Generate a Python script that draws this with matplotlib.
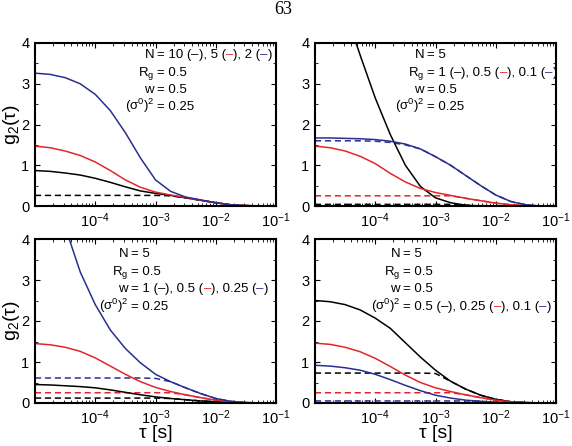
import numpy as np
import matplotlib
matplotlib.use('Agg')
import matplotlib.pyplot as plt
from matplotlib import font_manager
from matplotlib.ticker import MultipleLocator, LogLocator, NullFormatter

# шрифт: узкий, если есть
names = {f.name for f in font_manager.fontManager.ttflist}
narrow = next((n for n in ['Liberation Sans Narrow', 'Liberation Sans']
               if n in names), 'DejaVu Sans')
is_narrow = narrow == 'Liberation Sans Narrow'
plt.rcParams['font.family'] = [narrow, 'DejaVu Sans']
plt.rcParams['mathtext.fontset'] = 'custom'
plt.rcParams['mathtext.rm'] = narrow
plt.rcParams['mathtext.it'] = narrow + ':italic'
plt.rcParams['mathtext.bf'] = narrow + ':bold'

# данные, tau в секундах
tau = [1.0e-5, 1.78e-5, 3.16e-5, 5.62e-5, 1.0e-4, 1.78e-4, 3.16e-4, 5.62e-4,
       1.0e-3, 1.78e-3, 3.16e-3, 5.62e-3, 1.0e-2, 1.78e-2, 3.16e-2, 5.62e-2, 1.0e-1]

# панель 1: N = 10, 5, 2
a_black = [0.87, 0.85, 0.81, 0.76, 0.68, 0.58, 0.47, 0.37, 0.31, 0.26, 0.20, 0.14, 0.08, 0.03, 0.01, 0.0, 0.0]
a_red = [1.47, 1.43, 1.35, 1.24, 1.08, 0.87, 0.64, 0.46, 0.34, 0.27, 0.21, 0.14, 0.08, 0.03, 0.01, 0.0, 0.0]
a_blue = [3.26, 3.23, 3.15, 3.00, 2.74, 2.34, 1.80, 1.18, 0.64, 0.36, 0.22, 0.15, 0.08, 0.03, 0.01, 0.0, 0.0]
a_black_d = [0.26, 0.26, 0.26, 0.26, 0.26, 0.26, 0.26, 0.26, 0.26, 0.25, 0.20, 0.14, 0.08, 0.03, 0.01, 0.0, 0.0]

# панель 2: Rg = 1, 0.5, 0.1
b_black = [7.3, 6.0, 4.8, 3.70, 2.65, 1.75, 1.00, 0.48, 0.20, 0.08, 0.02, 0.0, 0.0, 0.0, 0.0, 0.0, 0.0]
b_red = [1.47, 1.43, 1.35, 1.22, 1.04, 0.80, 0.59, 0.43, 0.33, 0.26, 0.19, 0.13, 0.07, 0.03, 0.01, 0.0, 0.0]
b_blue = [1.67, 1.67, 1.66, 1.65, 1.63, 1.59, 1.52, 1.40, 1.21, 1.00, 0.75, 0.50, 0.27, 0.11, 0.03, 0.0, 0.0]
b_black_d = [0.04, 0.04, 0.04, 0.04, 0.04, 0.04, 0.04, 0.04, 0.04, 0.04, 0.02, 0.0, 0.0, 0.0, 0.0, 0.0, 0.0]
b_red_d = [0.25, 0.25, 0.25, 0.25, 0.25, 0.25, 0.25, 0.25, 0.25, 0.25, 0.19, 0.13, 0.07, 0.03, 0.01, 0.0, 0.0]
b_blue_d = [1.60, 1.60, 1.60, 1.60, 1.59, 1.56, 1.50, 1.40, 1.21, 1.00, 0.75, 0.50, 0.27, 0.11, 0.03, 0.0, 0.0]

# панель 3: w = 1, 0.5, 0.25
c_black = [0.45, 0.44, 0.42, 0.40, 0.37, 0.32, 0.26, 0.20, 0.15, 0.11, 0.08, 0.05, 0.03, 0.01, 0.0, 0.0, 0.0]
c_red = [1.45, 1.42, 1.36, 1.26, 1.10, 0.90, 0.70, 0.52, 0.38, 0.28, 0.20, 0.13, 0.07, 0.03, 0.01, 0.0, 0.0]
c_blue = [7.5, 5.7, 4.3, 3.2, 2.40, 1.78, 1.33, 0.98, 0.70, 0.52, 0.37, 0.23, 0.11, 0.04, 0.01, 0.0, 0.0]
c_black_d = [0.12, 0.12, 0.12, 0.12, 0.12, 0.12, 0.12, 0.12, 0.12, 0.11, 0.08, 0.05, 0.03, 0.01, 0.0, 0.0, 0.0]
c_red_d = [0.25, 0.25, 0.25, 0.25, 0.25, 0.25, 0.25, 0.25, 0.25, 0.25, 0.20, 0.13, 0.07, 0.03, 0.01, 0.0, 0.0]
c_blue_d = [0.61, 0.61, 0.61, 0.61, 0.61, 0.61, 0.61, 0.61, 0.60, 0.52, 0.37, 0.23, 0.11, 0.04, 0.01, 0.0, 0.0]

# панель 4: (sigma0)^2 = 0.5, 0.25, 0.1
d_black = [2.50, 2.47, 2.40, 2.27, 2.07, 1.82, 1.47, 1.12, 0.80, 0.53, 0.34, 0.19, 0.09, 0.03, 0.01, 0.0, 0.0]
d_red = [1.46, 1.43, 1.36, 1.25, 1.09, 0.89, 0.68, 0.50, 0.37, 0.28, 0.20, 0.13, 0.07, 0.03, 0.01, 0.0, 0.0]
d_blue = [0.92, 0.90, 0.86, 0.80, 0.70, 0.57, 0.43, 0.30, 0.19, 0.12, 0.07, 0.04, 0.02, 0.01, 0.0, 0.0, 0.0]
d_black_d = [0.73, 0.73, 0.73, 0.73, 0.73, 0.73, 0.73, 0.73, 0.72, 0.53, 0.34, 0.19, 0.09, 0.03, 0.01, 0.0, 0.0]
d_red_d = [0.25, 0.25, 0.25, 0.25, 0.25, 0.25, 0.25, 0.25, 0.25, 0.25, 0.20, 0.13, 0.07, 0.03, 0.01, 0.0, 0.0]
d_blue_d = [0.05, 0.05, 0.05, 0.05, 0.05, 0.05, 0.05, 0.05, 0.05, 0.05, 0.05, 0.04, 0.02, 0.01, 0.0, 0.0, 0.0]

K, R, B = 'black', '#e3262b', '#2a2f8f'

W, H = 572, 446
fig = plt.figure(figsize=(W / 100, H / 100), dpi=100)

# (left, top, right, bottom) в пикселях картинки
boxes = [(35, 43, 276, 206), (315, 43, 556, 206), (35, 239, 276, 403), (315, 239, 556, 403)]
axes = [fig.add_axes([l / W, 1 - b / H, (r - l) / W, (b - t) / H]) for l, t, r, b in boxes]

tick_size = 11 if is_narrow else 10.5
note_size = 10.5 if is_narrow else 9.5


def setup(ax):
    ax.set_xscale('log')
    ax.set_xlim(1e-5, 1e-1)
    ax.set_ylim(0, 4)
    ax.set_xticks([1e-4, 1e-3, 1e-2, 1e-1])
    ax.xaxis.set_minor_locator(LogLocator(base=10, subs=np.arange(2, 10)))
    ax.xaxis.set_minor_formatter(NullFormatter())
    ax.set_yticks([0, 1, 2, 3, 4])
    ax.yaxis.set_minor_locator(MultipleLocator(0.5))
    ax.tick_params(which='both', direction='in', top=True, right=True, labelsize=tick_size, pad=4)
    ax.tick_params(which='major', length=3.5, width=0.8)
    ax.tick_params(which='minor', length=2.5, width=0.6)
    for s in ax.spines.values():
        s.set_linewidth(1.5)


series = [
    [(a_black_d, K, '--'), (a_black, K, '-'), (a_red, R, '-'), (a_blue, B, '-')],
    [(b_black_d, K, '--'), (b_red_d, R, '--'), (b_blue_d, B, '--'),
     (b_black, K, '-'), (b_red, R, '-'), (b_blue, B, '-')],
    [(c_black_d, K, '--'), (c_red_d, R, '--'), (c_blue_d, B, '--'),
     (c_black, K, '-'), (c_red, R, '-'), (c_blue, B, '-')],
    [(d_black_d, K, '--'), (d_red_d, R, '--'), (d_blue_d, B, '--'),
     (d_black, K, '-'), (d_red, R, '-'), (d_blue, B, '-')],
]

for ax, lines in zip(axes, series):
    setup(ax)
    for y, c, ls in lines:
        if ls == '--':
            ax.plot(tau, y, color=c, lw=1.1, dashes=(4, 2.5))
        else:
            ax.plot(tau, y, color=c, lw=1.1)

renderer = fig.canvas.get_renderer()


def eq_line(x_eq, y_img, left, parts, size=note_size):
    y = 1 - y_img / H
    fig.text((x_eq - 3) / W, y, left, ha='right', va='baseline', size=size)
    x = x_eq / W
    for s, c in parts:
        t = fig.text(x, y, s, ha='left', va='baseline', size=size, color=c)
        x += t.get_window_extent(renderer).width / fig.bbox.width


sig = r'$\mathregular{(σ^0)^2}$'
rg = r'$\mathregular{R_g}$'
d = '–'

# панель 1
eq_line(157, 58, 'N', [('= 10 (', K), (d, K), ('), 5 (', K), (d, R), ('), 2 (', K), (d, B), (')', K)])
eq_line(157, 76, rg, [('= 0.5', K)])
eq_line(157, 93, 'w', [('= 0.5', K)])
eq_line(157, 110, sig, [('= 0.25', K)])
# панель 2
eq_line(427, 58, 'N', [('= 5', K)])
eq_line(427, 76, rg, [('= 1 (', K), (d, K), ('), 0.5 (', K), (d, R), ('), 0.1 (', K), (d, B), (')', K)])
eq_line(427, 93, 'w', [('= 0.5', K)])
eq_line(427, 110, sig, [('= 0.25', K)])
# панель 3
eq_line(131, 257, 'N', [('= 5', K)])
eq_line(131, 275, rg, [('= 0.5', K)])
eq_line(131, 292, 'w', [('= 1 (', K), (d, K), ('), 0.5 (', K), (d, R), ('), 0.25 (', K), (d, B), (')', K)])
eq_line(131, 310, sig, [('= 0.25', K)])
# панель 4
eq_line(403, 257, 'N', [('= 5', K)])
eq_line(403, 275, rg, [('= 0.5', K)])
eq_line(403, 292, 'w', [('= 0.5', K)])
eq_line(403, 310, sig, [('= 0.5 (', K), (d, K), ('), 0.25 (', K), (d, R), ('), 0.1 (', K), (d, B), (')', K)])

# подписи осей
for yc in (124.5, 321):
    fig.text(11 / W, 1 - yc / H, 'g$_2$(τ)', rotation=90, ha='center', va='center', size=14)
for xc in (155.5, 435.5):
    fig.text(xc / W, 1 - 434 / H, 'τ [s]', ha='center', va='center', size=14)

# номер страницы
fig.text(283 / W, 1 - 9 / H, '63', ha='center', va='center', size=13, family='Liberation Serif')

fig.savefig('out.png', dpi=100)
